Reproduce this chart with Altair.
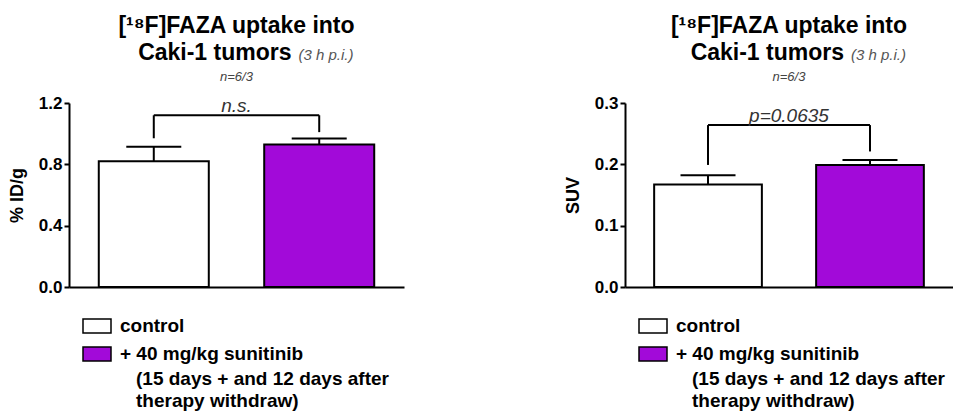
import altair as alt
import pandas as pd

# ---- data -------------------------------------------------------------
groups = ["control", "+ 40 mg/kg sunitinib"]
group_colors = ["#ffffff", "#a20ad9"]

pid_mean = [0.82, 0.93]
pid_err_top = [0.915, 0.968]
pid_bracket = 1.12
pid_leg_bottom = [0.97, 1.01]
pid_sig = "n.s."
pid_ticks = [0.0, 0.4, 0.8, 1.2]

suv_mean = [0.167, 0.199]
suv_err_top = [0.182, 0.207]
suv_bracket = 0.264
suv_leg_bottom = [0.199, 0.221]
suv_sig = "p=0.0635"
suv_ticks = [0.0, 0.1, 0.2, 0.3]

title_line1 = "[¹⁸F]FAZA uptake into"
title_line2 = "Caki-1 tumors"
title_note = "(3 h p.i.)"
subtitle_text = "n=6/3"
legend_extra = ["(15 days + and 12 days after", "therapy withdraw)"]

FONT = "Liberation Sans"
H = 184


def txt(s, **kw):
    return alt.Chart(pd.DataFrame({"t": [s]})).mark_text(font=FONT, **kw)


def panel(means, tops, bracket, legs, sig, ytitle, ticks, width):
    df = pd.DataFrame({
        "group": groups,
        "mean": means,
        "top": tops,
        "leg": legs,
        "bracket": [bracket] * len(groups),
    })
    xs = alt.X(
        "group:N", sort=groups, title=None,
        scale=alt.Scale(paddingInner=0.335, paddingOuter=0.18),
        axis=alt.Axis(labels=False, ticks=False, title=None, domainColor="black",
                      domainWidth=2),
    )
    yscale = alt.Scale(domain=[ticks[0], ticks[-1]], nice=False)
    yaxis = alt.Axis(values=ticks, format=".1f", grid=False, domainColor="black",
                     domainWidth=2, tickColor="black", tickWidth=2, tickSize=5,
                     labelFont=FONT, labelFontSize=17, labelFontWeight="bold",
                     labelColor="black", labelPadding=2, titleFont=FONT,
                     titleFontSize=18, titleFontWeight="bold", titleColor="black",
                     titlePadding=12)

    def Y(field):
        return alt.Y(field, scale=yscale, axis=yaxis, title=ytitle)

    base = alt.Chart(df)
    bars = base.mark_bar(stroke="black", strokeWidth=2).encode(
        x=xs, y=Y("mean:Q"),
        fill=alt.Fill("group:N", sort=groups,
                      scale=alt.Scale(domain=groups, range=group_colors),
                      legend=alt.Legend(
                          title=None, orient="none", legendX=13, legendY=208,
                          symbolType="M-1,-0.5H1V0.5H-1Z", symbolSize=784,
                          symbolStrokeColor="black", symbolStrokeWidth=1.5,
                          symbolOpacity=1,
                          labelFont=FONT, labelFontSize=19, labelFontWeight="bold",
                          labelColor="black", labelOffset=8, labelLimit=400,
                          rowPadding=3)),
    )
    err = base.mark_rule(color="black", strokeWidth=2).encode(
        x=xs, y=Y("mean:Q"), y2="top:Q")
    caps = base.mark_tick(color="black", thickness=2, size=55, opacity=1).encode(
        x=xs, y=Y("top:Q"))
    legs_ = base.mark_rule(color="black", strokeWidth=2).encode(
        x=xs, y=Y("leg:Q"), y2="bracket:Q")
    bridge = base.mark_line(color="black", strokeWidth=2).encode(
        x=xs, y=Y("bracket:Q"))
    sig_df = pd.DataFrame({"label": [sig], "y": [bracket]})
    sig_text = alt.Chart(sig_df).mark_text(
        font=FONT, fontSize=19, fontStyle="italic", color="#333333",
        baseline="bottom", dy=1).encode(
        x=alt.value(width / 2), y=Y("y:Q"), text="label:N")

    mid = width / 2
    header = [
        txt(title_line1, fontSize=23, fontWeight="bold", color="black",
            align="center", baseline="alphabetic").encode(
            x=alt.value(mid), y=alt.value(-70), text="t:N"),
        txt(title_line2, fontSize=23, fontWeight="bold", color="black",
            align="right", baseline="alphabetic").encode(
            x=alt.value(mid + 55), y=alt.value(-43), text="t:N"),
        txt(title_note, fontSize=15, fontStyle="italic", color="#555555",
            align="left", baseline="alphabetic").encode(
            x=alt.value(mid + 62), y=alt.value(-43), text="t:N"),
        txt(subtitle_text, fontSize=13, fontStyle="italic", color="#444444",
            align="center", baseline="alphabetic").encode(
            x=alt.value(mid), y=alt.value(-22), text="t:N"),
    ]
    extra = [
        txt(t, fontSize=19, fontWeight="bold", color="black",
            align="left", baseline="middle").encode(
            x=alt.value(67), y=alt.value(276 + 22 * i), text="t:N")
        for i, t in enumerate(legend_extra)
    ]
    return alt.layer(bars, err, caps, legs_, bridge, sig_text, *header, *extra).properties(
        width=width, height=H)


left = panel(pid_mean, pid_err_top, pid_bracket, pid_leg_bottom, pid_sig,
             "% ID/g", pid_ticks, 335)
right = panel(suv_mean, suv_err_top, suv_bracket, suv_leg_bottom, suv_sig,
              "SUV", suv_ticks, 328)

chart = alt.hconcat(left, right, spacing=160).resolve_scale(
    fill="independent").resolve_legend(fill="independent").properties(
    padding={"left": 0, "top": 7, "right": 0, "bottom": 0}, background="white"
).configure_view(stroke=None)

chart.save("out.html", embed_options={"renderer": "svg", "actions": False})
